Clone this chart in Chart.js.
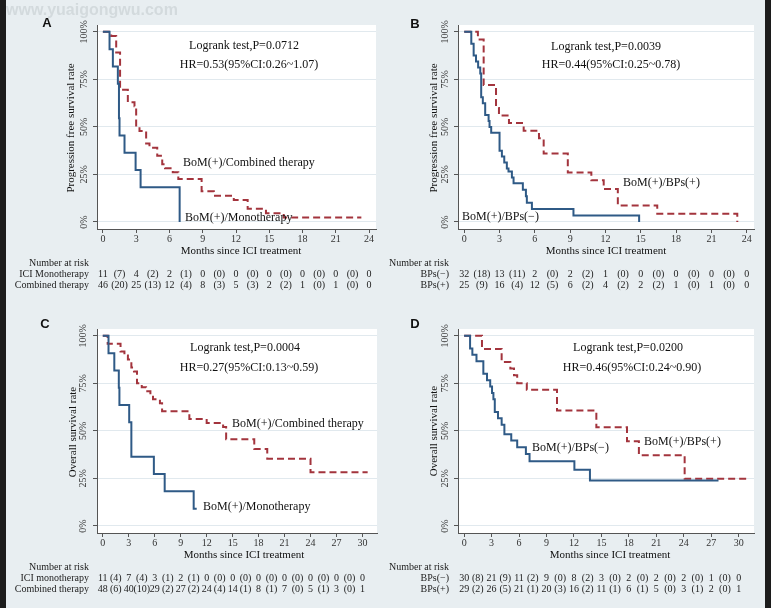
<!DOCTYPE html>
<html>
<head>
<meta charset="utf-8">
<script src="https://cdn.jsdelivr.net/npm/chart.js@4.4.0/dist/chart.umd.min.js"></script>
<style>
  html, body { margin: 0; padding: 0; background: #1c1c1c; }
  #page { position: relative; width: 771px; height: 608px; overflow: hidden; }
  #bg { position: absolute; left: 6px; top: 0; width: 759px; height: 608px; background: #e8eef1; }
  canvas { position: absolute; }
</style>
</head>
<body>
<div id="page">
  <div id="bg"></div>
  <canvas id="cA" width="385" height="300" style="left:0;top:0"></canvas>
  <canvas id="cB" width="380" height="300" style="left:385px;top:0"></canvas>
  <canvas id="cC" width="385" height="308" style="left:0;top:300px"></canvas>
  <canvas id="cD" width="380" height="308" style="left:385px;top:300px"></canvas>
</div>
<script>
// ---- axis ticks ----
const pfsTicks = [0, 3, 6, 9, 12, 15, 18, 21, 24];
const osTicks = [0, 3, 6, 9, 12, 15, 18, 21, 24, 27, 30];
const survTicks = [0, 25, 50, 75, 100];
const survLabels = ['0%', '25%', '50%', '75%', '100%'];

// ---- A: PFS, ICI monotherapy vs combined therapy ----
const aMonoT = [0, 0.6, 0.9, 1.35, 1.45, 1.5, 1.95, 2.95, 3.4, 6.92];
const aMonoS = [100, 90.9, 81.8, 72.7, 54.5, 45.5, 36.4, 27.3, 18.2, 0];
const aCombT = [0, 0.75, 1.2, 1.55, 2.25, 2.85, 3.0, 3.3, 3.9, 4.2, 4.9, 5.35, 5.6, 6.3, 6.8, 8.9, 10.0, 11.8, 13.05, 14.7, 16.3, 23.3];
const aCombS = [100, 97.8, 89.1, 69.6, 63.0, 60.9, 50.0, 47.8, 41.3, 39.1, 34.8, 30.4, 28.3, 26.1, 22.6, 16.1, 13.8, 11.5, 6.9, 4.6, 2.3, 2.3];

// ---- B: PFS, BPs(-) vs BPs(+) ----
const bNegT = [0, 0.6, 0.8, 1.0, 1.18, 1.36, 1.44, 1.58, 1.78, 2.07, 2.15, 2.29, 3.0, 3.2, 3.4, 3.62, 3.76, 4.05, 4.19, 4.98, 5.24, 5.32, 5.75, 9.28, 14.86];
const bNegS = [100, 93.8, 87.5, 84.4, 81.3, 78.1, 65.6, 62.5, 56.3, 53.1, 50.0, 46.9, 37.5, 34.4, 31.3, 28.1, 26.6, 23.4, 20.3, 16.9, 13.5, 10.1, 6.8, 3.4, 0];
const bPosT = [0, 1.16, 1.65, 2.7, 2.95, 3.8, 5.05, 6.35, 6.75, 8.8, 10.8, 11.85, 13.05, 16.4, 23.2];
const bPosS = [100, 96, 72, 60, 56, 52, 48, 44, 36, 26, 22, 17.3, 8.7, 4.3, 0];

// ---- C: OS, ICI monotherapy vs combined therapy ----
const cMonoT = [0, 0.66, 1.33, 1.85, 1.92, 3.05, 3.3, 5.9, 7.15, 10.5, 10.85];
const cMonoS = [100, 90.9, 81.8, 72.7, 63.6, 54.5, 36.4, 27.3, 18.2, 9.1, 9.1];
const cCombT = [0, 0.56, 2.05, 2.5, 2.9, 3.3, 3.6, 3.95, 4.5, 5.0, 5.5, 5.8, 6.6, 6.85, 10.0, 12.0, 13.9, 14.25, 17.5, 19.0, 24.0, 30.6];
const cCombS = [100, 95.8, 91.7, 89.6, 87.5, 83.3, 81.3, 75.0, 72.9, 70.8, 68.8, 66.7, 64.6, 60.4, 56.3, 54.2, 52.0, 45.6, 40.5, 35.4, 28.3, 28.3];

// ---- D: OS, BPs(-) vs BPs(+) ----
const dNegT = [0, 0.65, 0.9, 1.35, 2.1, 2.5, 2.85, 3.05, 3.2, 3.35, 3.7, 4.1, 4.4, 5.15, 5.8, 6.75, 7.15, 12.05, 13.75, 27.8];
const dNegS = [100, 93.3, 90.0, 86.7, 80.0, 76.7, 73.3, 70.0, 66.7, 60.0, 56.7, 53.3, 48.3, 45.0, 41.4, 37.9, 34.1, 29.6, 23.9, 23.9];
const dPosT = [0, 1.95, 4.1, 5.05, 5.45, 5.8, 6.85, 10.15, 14.45, 17.8, 19.1, 24.1, 30.9];
const dPosS = [100, 93.1, 86.2, 82.8, 79.3, 75.0, 71.6, 60.7, 51.9, 44.6, 37.2, 24.8, 24.8];

// ---- number at risk (every 1.5 months) ----
const riskA1 = ['11', '(7)', '4', '(2)', '2', '(1)', '0', '(0)', '0', '(0)', '0', '(0)', '0', '(0)', '0', '(0)', '0'];
const riskA2 = ['46', '(20)', '25', '(13)', '12', '(4)', '8', '(3)', '5', '(3)', '2', '(2)', '1', '(0)', '1', '(0)', '0'];
const riskB1 = ['32', '(18)', '13', '(11)', '2', '(0)', '2', '(2)', '1', '(0)', '0', '(0)', '0', '(0)', '0', '(0)', '0'];
const riskB2 = ['25', '(9)', '16', '(4)', '12', '(5)', '6', '(2)', '4', '(2)', '2', '(2)', '1', '(0)', '1', '(0)', '0'];
const riskC1 = ['11', '(4)', '7', '(4)', '3', '(1)', '2', '(1)', '0', '(0)', '0', '(0)', '0', '(0)', '0', '(0)', '0', '(0)', '0', '(0)', '0'];
const riskC2 = ['48', '(6)', '40', '(10)', '29', '(2)', '27', '(2)', '24', '(4)', '14', '(1)', '8', '(1)', '7', '(0)', '5', '(1)', '3', '(0)', '1'];
const riskD1 = ['30', '(8)', '21', '(9)', '11', '(2)', '9', '(0)', '8', '(2)', '3', '(0)', '2', '(0)', '2', '(0)', '2', '(0)', '1', '(0)', '0'];
const riskD2 = ['29', '(2)', '26', '(5)', '21', '(1)', '20', '(3)', '16', '(2)', '11', '(1)', '6', '(1)', '5', '(0)', '3', '(1)', '2', '(0)', '1'];

const BLUE = '#2f5a86';
const RED = '#a3343d';
const SERIF = '"Liberation Serif", "Times New Roman", serif';
const SANS = '"Liberation Sans", Arial, sans-serif';

function pts(t, s) {
    return t.map((v, i) => ({ x: v, y: s[i] }));
}

// text positions below are page coordinates
const panels = {
    cA: {
        ox: 0, oy: 0, letter: ['A', 47, 23], watermark: 'www.yuaigongwu.com',
        yTickX: 84, yTitle: ['Progression free survival rate', 71, 128],
        xTitle: ['Months since ICI treatment', 241, 251],
        stats: [['Logrank test,P=0.0712', 244, 46], ['HR=0.53(95%CI:0.26~1.07)', 249, 65]],
        curveLabels: [['BoM(+)/Combined therapy', 183, 163], ['BoM(+)/Monotherapy', 185, 218]],
        riskHead: ['Number at risk', 89, 263, 'right'], riskLabelX: 89,
        riskRows: [{ name: 'ICI Monotherapy', y: 274, vals: riskA1 }, { name: 'Combined therapy', y: 285, vals: riskA2 }]
    },
    cB: {
        ox: 385, oy: 0, letter: ['B', 415, 24],
        yTickX: 445, yTitle: ['Progression free survival rate', 434, 128],
        xTitle: ['Months since ICI treatment', 606, 251],
        stats: [['Logrank test,P=0.0039', 606, 47], ['HR=0.44(95%CI:0.25~0.78)', 611, 65]],
        curveLabels: [['BoM(+)/BPs(+)', 623, 183], ['BoM(+)/BPs(\u2212)', 462, 217]],
        riskHead: ['Number at risk', 389, 263, 'left'], riskLabelX: 449,
        riskRows: [{ name: 'BPs(\u2212)', y: 274, vals: riskB1 }, { name: 'BPs(+)', y: 285, vals: riskB2 }]
    },
    cC: {
        ox: 0, oy: 300, letter: ['C', 45, 324],
        yTickX: 83, yTitle: ['Overall survival rate', 73, 432],
        xTitle: ['Months since ICI treatment', 244, 555],
        stats: [['Logrank test,P=0.0004', 245, 348], ['HR=0.27(95%CI:0.13~0.59)', 249, 368]],
        curveLabels: [['BoM(+)/Combined therapy', 232, 424], ['BoM(+)/Monotherapy', 203, 507]],
        riskHead: ['Number at risk', 89, 567, 'right'], riskLabelX: 89,
        riskRows: [{ name: 'ICI monotherapy', y: 578, vals: riskC1 }, { name: 'Combined therapy', y: 589, vals: riskC2 }]
    },
    cD: {
        ox: 385, oy: 300, letter: ['D', 415, 324],
        yTickX: 445, yTitle: ['Overall survival rate', 434, 431],
        xTitle: ['Months since ICI treatment', 610, 555],
        stats: [['Logrank test,P=0.0200', 628, 348], ['HR=0.46(95%CI:0.24~0.90)', 632, 368]],
        curveLabels: [['BoM(+)/BPs(\u2212)', 532, 448], ['BoM(+)/BPs(+)', 644, 442]],
        riskHead: ['Number at risk', 389, 567, 'left'], riskLabelX: 449,
        riskRows: [{ name: 'BPs(\u2212)', y: 578, vals: riskD1 }, { name: 'BPs(+)', y: 589, vals: riskD2 }]
    }
};

// white plot area + all the text around the curves
const kmText = {
    id: 'kmText',
    beforeDraw(chart) {
        const { ctx, chartArea: a } = chart;
        ctx.save();
        ctx.fillStyle = '#ffffff';
        ctx.fillRect(a.left, a.top, a.right - a.left, a.bottom - a.top);
        ctx.restore();
    },
    afterDraw(chart) {
        const o = panels[chart.canvas.id];
        const ctx = chart.ctx;
        const xs = chart.scales.x, ys = chart.scales.y;
        const ox = o.ox, oy = o.oy;
        ctx.save();
        ctx.textBaseline = 'middle';

        if (o.watermark) {
            ctx.font = 'bold 16px ' + SANS;
            ctx.fillStyle = '#d3dadd';
            ctx.textAlign = 'left';
            ctx.fillText(o.watermark, 6 - ox, 11 - oy);
        }

        ctx.fillStyle = '#111';
        ctx.font = 'bold 13px ' + SANS;
        ctx.textAlign = 'center';
        ctx.fillText(o.letter[0], o.letter[1] - ox, o.letter[2] - oy);

        // rotated y tick labels
        ctx.font = '10px ' + SERIF;
        ctx.fillStyle = '#333';
        survTicks.forEach((v, i) => {
            ctx.save();
            ctx.translate(o.yTickX - ox, ys.getPixelForValue(v));
            ctx.rotate(-Math.PI / 2);
            ctx.fillText(survLabels[i], 0, 0);
            ctx.restore();
        });

        ctx.fillStyle = '#111';
        ctx.font = '11px ' + SERIF;
        ctx.save();
        ctx.translate(o.yTitle[1] - ox, o.yTitle[2] - oy);
        ctx.rotate(-Math.PI / 2);
        ctx.fillText(o.yTitle[0], 0, 0);
        ctx.restore();
        ctx.fillText(o.xTitle[0], o.xTitle[1] - ox, o.xTitle[2] - oy);

        ctx.font = '12px ' + SERIF;
        o.stats.forEach(s => ctx.fillText(s[0], s[1] - ox, s[2] - oy));
        ctx.textAlign = 'left';
        o.curveLabels.forEach(s => ctx.fillText(s[0], s[1] - ox, s[2] - oy));

        // number at risk table
        ctx.font = '10px ' + SERIF;
        ctx.fillStyle = '#222';
        ctx.textAlign = o.riskHead[3];
        ctx.fillText(o.riskHead[0], o.riskHead[1] - ox, o.riskHead[2] - oy);
        o.riskRows.forEach(r => {
            ctx.textAlign = 'right';
            ctx.fillText(r.name, o.riskLabelX - ox, r.y - oy);
            ctx.textAlign = 'center';
            r.vals.forEach((v, i) => ctx.fillText(v, xs.getPixelForValue(i * 1.5), r.y - oy));
        });
        ctx.restore();
    }
};

function makeKM(id, p) {
    new Chart(document.getElementById(id), {
        type: 'line',
        data: {
            datasets: p.series.map(s => ({
                data: pts(s.t, s.s),
                borderColor: s.color,
                borderWidth: 2,
                borderDash: s.dash,
                stepped: 'before',
                pointRadius: 0,
                fill: false
            }))
        },
        options: {
            responsive: false,
            animation: false,
            events: [],
            layout: { padding: p.pad },
            plugins: { legend: { display: false }, tooltip: { enabled: false } },
            scales: {
                x: {
                    type: 'linear', min: p.xMin, max: p.xMax,
                    afterBuildTicks: ax => { ax.ticks = p.xTicks.map(v => ({ value: v })); },
                    afterFit: ax => { ax.height = 20; },
                    ticks: { font: { family: 'Liberation Serif', size: 10 }, color: '#333', padding: 0, maxRotation: 0, autoSkip: false },
                    grid: { drawOnChartArea: false, tickLength: 4, tickColor: '#555', color: '#555' },
                    border: { color: '#555' }
                },
                y: {
                    type: 'linear', min: -3.7, max: 103.6,
                    afterBuildTicks: ax => { ax.ticks = survTicks.map(v => ({ value: v })); },
                    afterFit: ax => { ax.width = 20; },
                    ticks: { display: false },
                    grid: { color: '#e1e9ee', tickColor: '#555', tickLength: 4 },
                    border: { color: '#555' }
                }
            }
        },
        plugins: [kmText]
    });
}

makeKM('cA', {
    pad: { left: 77, top: 25, right: 9, bottom: 51 }, xMin: -0.53, xMax: 24.62, xTicks: pfsTicks,
    series: [
        { t: aMonoT, s: aMonoS, color: BLUE, dash: [] },
        { t: aCombT, s: aCombS, color: RED, dash: [7, 4] }
    ]
});
makeKM('cB', {
    pad: { left: 53, top: 25, right: 11, bottom: 51 }, xMin: -0.53, xMax: 24.62, xTicks: pfsTicks,
    series: [
        { t: bNegT, s: bNegS, color: BLUE, dash: [] },
        { t: bPosT, s: bPosS, color: RED, dash: [7, 4] }
    ]
});
makeKM('cC', {
    pad: { left: 77, top: 29, right: 8, bottom: 55 }, xMin: -0.67, xMax: 31.68, xTicks: osTicks,
    series: [
        { t: cMonoT, s: cMonoS, color: BLUE, dash: [] },
        { t: cCombT, s: cCombS, color: RED, dash: [7, 4] }
    ]
});
makeKM('cD', {
    pad: { left: 53, top: 29, right: 11, bottom: 55 }, xMin: -0.67, xMax: 31.68, xTicks: osTicks,
    series: [
        { t: dNegT, s: dNegS, color: BLUE, dash: [] },
        { t: dPosT, s: dPosS, color: RED, dash: [7, 4] }
    ]
});
</script>
</body>
</html>
